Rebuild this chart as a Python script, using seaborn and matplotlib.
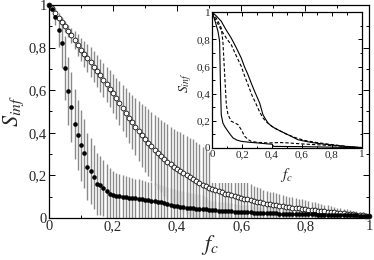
import numpy as np
import pandas as pd
import matplotlib
matplotlib.use('Agg')
import matplotlib.pyplot as plt
from matplotlib.patches import Rectangle
from matplotlib.ticker import MultipleLocator, FixedLocator, FixedFormatter
import seaborn as sns

# ---- data ----
f_c = np.linspace(0, 1, 101)

s_open = [1.000, 0.985, 0.962, 0.940, 0.920, 0.900, 0.878, 0.857, 0.834, 0.812,
          0.790, 0.771, 0.750, 0.731, 0.710, 0.690, 0.669, 0.648, 0.627, 0.606,
          0.585, 0.563, 0.540, 0.517, 0.494, 0.470, 0.449, 0.428, 0.408, 0.389,
          0.370, 0.353, 0.337, 0.320, 0.305, 0.290, 0.277, 0.265, 0.253, 0.241,
          0.230, 0.221, 0.211, 0.202, 0.193, 0.185, 0.175, 0.166, 0.157, 0.148,
          0.140, 0.135, 0.130, 0.125, 0.120, 0.115, 0.111, 0.107, 0.103, 0.099,
          0.095, 0.091, 0.088, 0.084, 0.080, 0.077, 0.074, 0.071, 0.068, 0.065,
          0.062, 0.060, 0.057, 0.055, 0.052, 0.050, 0.048, 0.046, 0.045, 0.043,
          0.041, 0.039, 0.038, 0.036, 0.035, 0.033, 0.031, 0.030, 0.028, 0.027,
          0.025, 0.023, 0.022, 0.020, 0.018, 0.017, 0.015, 0.014, 0.012, 0.011,
          0.010]

err_open = [0.000, 0.005, 0.010, 0.015, 0.020, 0.025, 0.030, 0.037, 0.043, 0.050,
            0.055, 0.060, 0.065, 0.070, 0.072, 0.075, 0.078, 0.081, 0.084, 0.087,
            0.090, 0.096, 0.102, 0.108, 0.114, 0.120, 0.127, 0.134, 0.141, 0.148,
            0.155, 0.158, 0.161, 0.164, 0.167, 0.170, 0.172, 0.174, 0.176, 0.178,
            0.180, 0.181, 0.182, 0.183, 0.184, 0.184, 0.183, 0.181, 0.178, 0.174,
            0.170, 0.162, 0.154, 0.146, 0.138, 0.130, 0.122, 0.114, 0.106, 0.098,
            0.090, 0.085, 0.080, 0.076, 0.072, 0.068, 0.065, 0.062, 0.061, 0.059,
            0.058, 0.056, 0.055, 0.053, 0.052, 0.050, 0.049, 0.047, 0.046, 0.044,
            0.042, 0.040, 0.038, 0.037, 0.035, 0.033, 0.031, 0.029, 0.027, 0.026,
            0.024, 0.023, 0.022, 0.021, 0.019, 0.018, 0.017, 0.016, 0.014, 0.013,
            0.012]

s_filled = [1.000, 0.980, 0.945, 0.883, 0.823, 0.704, 0.595, 0.520, 0.440, 0.390,
            0.341, 0.304, 0.241, 0.222, 0.191, 0.160, 0.153, 0.141, 0.128, 0.115,
            0.108, 0.105, 0.103, 0.100, 0.097, 0.095, 0.094, 0.092, 0.090, 0.088,
            0.086, 0.084, 0.082, 0.080, 0.077, 0.074, 0.070, 0.066, 0.062, 0.058,
            0.055, 0.052, 0.050, 0.048, 0.046, 0.045, 0.043, 0.042, 0.041, 0.040,
            0.038, 0.037, 0.036, 0.035, 0.034, 0.033, 0.032, 0.031, 0.030, 0.029,
            0.028, 0.027, 0.027, 0.026, 0.025, 0.025, 0.024, 0.024, 0.023, 0.023,
            0.022, 0.022, 0.021, 0.021, 0.020, 0.020, 0.020, 0.019, 0.019, 0.018,
            0.018, 0.018, 0.017, 0.017, 0.016, 0.016, 0.016, 0.015, 0.015, 0.014,
            0.014, 0.014, 0.013, 0.013, 0.012, 0.012, 0.012, 0.011, 0.011, 0.010,
            0.010]

err_filled = [0.000, 0.010, 0.040, 0.080, 0.120, 0.150, 0.160, 0.165, 0.165, 0.165,
              0.165, 0.162, 0.158, 0.155, 0.150, 0.145, 0.140, 0.133, 0.127, 0.120,
              0.112, 0.108, 0.105, 0.102, 0.099, 0.097, 0.095, 0.093, 0.091, 0.089,
              0.087, 0.086, 0.085, 0.084, 0.083, 0.082, 0.081, 0.080, 0.079, 0.078,
              0.077, 0.076, 0.075, 0.074, 0.073, 0.072, 0.071, 0.070, 0.068, 0.060,
              0.045, 0.044, 0.043, 0.042, 0.041, 0.040, 0.039, 0.038, 0.037, 0.036,
              0.035, 0.034, 0.033, 0.033, 0.032, 0.031, 0.030, 0.030, 0.029, 0.028,
              0.028, 0.027, 0.026, 0.026, 0.025, 0.024, 0.024, 0.023, 0.022, 0.022,
              0.021, 0.021, 0.020, 0.019, 0.019, 0.018, 0.018, 0.017, 0.016, 0.016,
              0.015, 0.015, 0.014, 0.014, 0.013, 0.013, 0.012, 0.012, 0.011, 0.011,
              0.010]

# inset curves
in_solid_out_x = [0, 0.03, 0.06, 0.09, 0.127, 0.16, 0.194, 0.215, 0.239, 0.26, 0.283,
                  0.30, 0.317, 0.339, 0.355, 0.373, 0.395, 0.417, 0.45, 0.484, 0.53,
                  0.573, 0.62, 0.68, 0.75, 0.82, 0.9, 0.95, 1.0]
in_solid_out_y = [1.0, 0.97, 0.934, 0.875, 0.81, 0.74, 0.663, 0.60, 0.54, 0.48, 0.418,
                  0.375, 0.332, 0.246, 0.215, 0.184, 0.162, 0.147, 0.128, 0.11, 0.085,
                  0.061, 0.05, 0.038, 0.028, 0.02, 0.011, 0.006, 0.002]

in_dash_out_x = [0, 0.02, 0.045, 0.072, 0.10, 0.127, 0.16, 0.194, 0.215, 0.239, 0.265,
                 0.295, 0.315, 0.339, 0.36, 0.384, 0.417, 0.45, 0.5, 0.56, 0.62, 0.7,
                 0.8, 0.9, 1.0]
in_dash_out_y = [1.0, 0.95, 0.90, 0.847, 0.80, 0.761, 0.68, 0.602, 0.535, 0.467, 0.39,
                 0.32, 0.27, 0.222, 0.195, 0.172, 0.147, 0.128, 0.10, 0.075, 0.055, 0.04,
                 0.025, 0.012, 0.003]

in_solid_steep_x = [0, 0.02, 0.038, 0.049, 0.054, 0.06, 0.071, 0.085, 0.105, 0.12, 0.139,
                    0.165, 0.194, 0.25, 0.306, 0.373, 0.40, 0.41, 0.5, 0.6, 0.7, 0.8,
                    0.9, 1.0]
in_solid_steep_y = [1.0, 0.93, 0.86, 0.786, 0.50, 0.246, 0.184, 0.155, 0.123, 0.10, 0.074,
                    0.058, 0.049, 0.042, 0.037, 0.030, 0.028, 0.012, 0.011, 0.010, 0.008,
                    0.006, 0.004, 0.002]

in_dash_steep_x = [0, 0.02, 0.038, 0.06, 0.071, 0.083, 0.094, 0.105, 0.127, 0.15, 0.172,
                   0.194, 0.217, 0.24, 0.261, 0.30, 0.373, 0.45, 0.5, 0.6, 0.7, 0.8, 0.9,
                   1.0]
in_dash_steep_y = [1.0, 0.97, 0.934, 0.884, 0.786, 0.54, 0.319, 0.246, 0.197, 0.185, 0.172,
                   0.135, 0.086, 0.062, 0.049, 0.042, 0.037, 0.040, 0.038, 0.03, 0.024,
                   0.018, 0.01, 0.004]

tick_vals = [0, 0.2, 0.4, 0.6, 0.8, 1.0]
tick_labels = ["0", "0,2", "0,4", "0,6", "0,8", "1"]

# ---- style ----
sns.set_theme(style="ticks")
plt.rcParams['font.family'] = ['Liberation Serif', 'DejaVu Serif']
plt.rcParams['mathtext.fontset'] = 'stix'

fig = plt.figure(figsize=(3.74, 2.60), dpi=100)
ax = fig.add_axes([0.131, 0.1615, 0.856, 0.8195])

df_open = pd.DataFrame({'f_c': f_c, 'S': s_open, 'err': err_open})
df_filled = pd.DataFrame({'f_c': f_c, 'S': s_filled, 'err': err_filled})

# error bars first, markers on top
bar_col = '#8a8a8a'
ax.errorbar(df_open['f_c'], df_open['S'], yerr=df_open['err'], fmt='none',
            ecolor=bar_col, elinewidth=1.0, capsize=0, zorder=1)
ax.errorbar(df_filled['f_c'], df_filled['S'], yerr=df_filled['err'], fmt='none',
            ecolor=bar_col, elinewidth=1.0, capsize=0, zorder=1)
sns.scatterplot(data=df_open, x='f_c', y='S', ax=ax, s=12, marker='o',
                facecolor='white', edgecolor='black', linewidth=0.55,
                zorder=3, clip_on=False)
sns.scatterplot(data=df_filled, x='f_c', y='S', ax=ax, s=11, marker='o',
                color='black', edgecolor='black', linewidth=0,
                zorder=4, clip_on=False)


def style_axes(a, fs, maj, mnr):
    a.set_xlim(0, 1)
    a.set_ylim(0, 1)
    for sp in a.spines.values():
        sp.set_visible(True)
        sp.set_color('black')
        sp.set_linewidth(0.9)
    a.xaxis.set_major_locator(FixedLocator(tick_vals))
    a.xaxis.set_major_formatter(FixedFormatter(tick_labels))
    a.yaxis.set_major_locator(FixedLocator(tick_vals))
    a.yaxis.set_major_formatter(FixedFormatter(tick_labels))
    a.xaxis.set_minor_locator(MultipleLocator(0.1))
    a.yaxis.set_minor_locator(MultipleLocator(0.1))
    a.tick_params(which='both', direction='in', top=True, right=True,
                  color='black', width=0.7, labelsize=fs, pad=1.5)
    a.tick_params(which='major', length=maj)
    a.tick_params(which='minor', length=mnr)


style_axes(ax, 10.5, 4, 2.5)
ax.set_xlabel('$f_c$', fontsize=16)
ax.set_ylabel('$S_{inf}$', fontsize=16)
ax.xaxis.set_label_coords(0.503, -0.07)
ax.yaxis.set_label_coords(-0.072, 0.5)

axin = fig.add_axes([0.5676, 0.4308, 0.3995, 0.5219], zorder=2)
axin.set_facecolor('white')
# white block under the inset's tick labels, hides the bars there
axin.add_patch(Rectangle((-0.01, -0.258), 1.02, 0.258, transform=axin.transAxes,
                         facecolor='white', edgecolor='none', clip_on=False,
                         zorder=-5))
sns.lineplot(x=in_solid_out_x, y=in_solid_out_y, ax=axin, color='black', lw=0.8)
sns.lineplot(x=in_dash_out_x, y=in_dash_out_y, ax=axin, color='black', lw=0.8,
             linestyle=(0, (3, 1.8)))
sns.lineplot(x=in_solid_steep_x, y=in_solid_steep_y, ax=axin, color='black', lw=0.8)
sns.lineplot(x=in_dash_steep_x, y=in_dash_steep_y, ax=axin, color='black', lw=0.8,
             linestyle=(0, (3, 1.8)))
style_axes(axin, 8, 3, 1.8)
axin.set_xlabel('$f_c$', fontsize=11)
axin.set_ylabel('$S_{inf}$', fontsize=10)
axin.xaxis.set_label_coords(0.5, -0.135)
axin.yaxis.set_label_coords(-0.125, 0.48)

fig.savefig('out.png', dpi=100)
